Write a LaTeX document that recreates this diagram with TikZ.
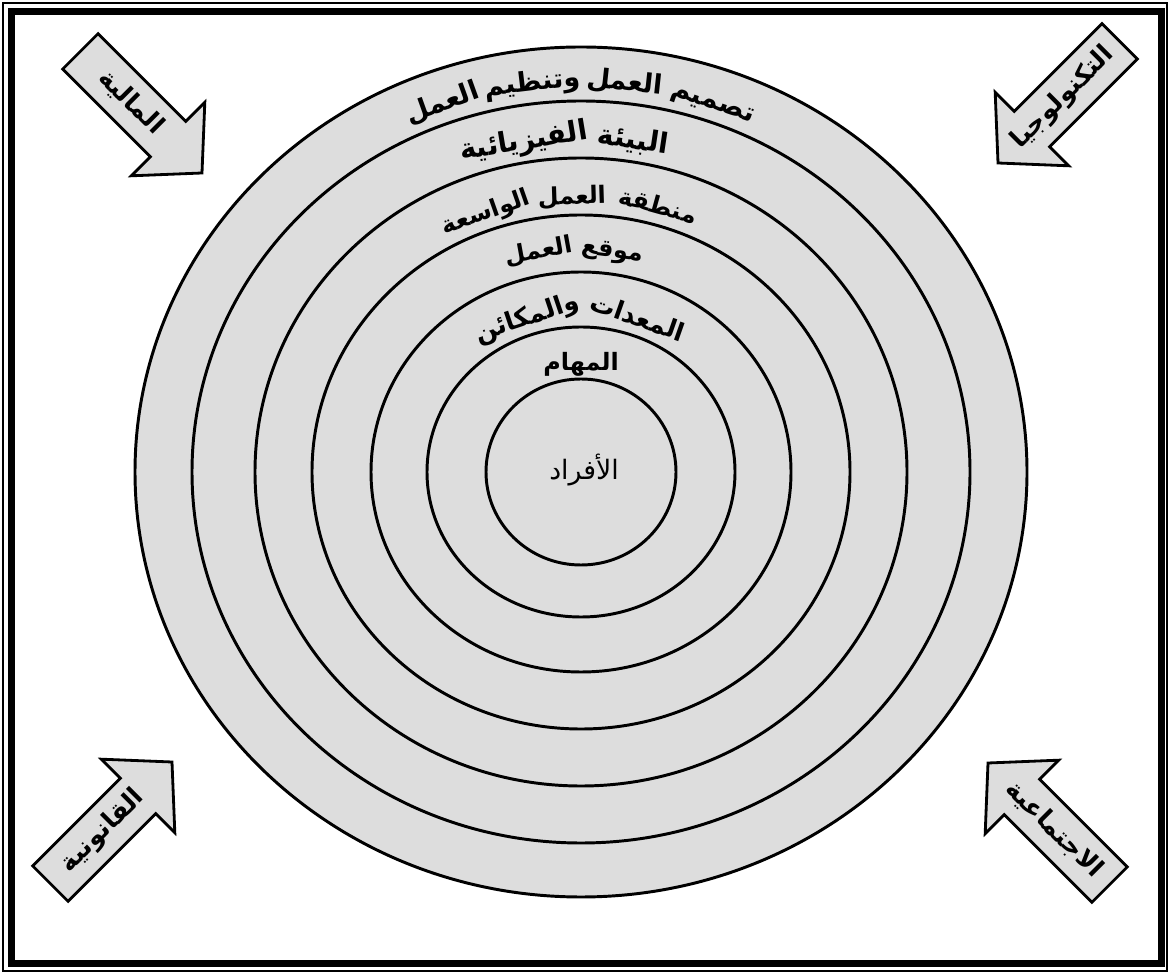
\documentclass[tikz,border=0pt]{standalone}
\usepackage{fontspec}
\newfontfamily\arabicfont[Script=Arabic]{DejaVu Sans}
\TeXXeTstate=1
\definecolor{ringgray}{RGB}{221,221,221}

\newcommand{\forcearrow}[6]{%
  \begin{scope}[shift={#2},rotate=#3]
    \draw[forcebox] (0,0) -- (-48,52) -- (-48,25) -- (-172,25) -- (-172,-25) -- (-48,-25) -- (-48,-52) -- cycle;
    \node[forcetext,rotate=#4] (#1) at (#5,0) {\beginR #6\endR};
  \end{scope}}

\begin{document}
\begin{tikzpicture}[x=0.025cm,y=0.025cm,
  ring/.style={draw=black,line width=2.1pt,fill=ringgray},
  ringtext/.style={font=\arabicfont\bfseries\fontsize{#1}{#1}\selectfont,inner sep=0pt,anchor=base},
  forcebox/.style={draw=black,line width=2pt,fill=ringgray,line join=miter},
  forcetext/.style={font=\arabicfont\bfseries\fontsize{18}{18}\selectfont,inner sep=0pt}]

\useasboundingbox (0,0) rectangle (1170,974);
\draw[line width=1pt] (3,3) rectangle (1167,971);
\draw[line width=5pt] (11.5,10.5) rectangle (1161,962.5);

\coordinate (c) at (581,502);
\draw[ring] (c) ellipse [x radius=446, y radius=425];
\draw[ring] (c) ellipse [x radius=389, y radius=371];
\draw[ring] (c) ellipse [x radius=326, y radius=314];
\draw[ring] (c) ellipse [x radius=269, y radius=257];
\draw[ring] (c) ellipse [x radius=210, y radius=200];
\draw[ring] (c) ellipse [x radius=154, y radius=145];
\draw[ring] (c) ellipse [x radius=95, y radius=93];

\begin{scope}[shift={(c)}]
\node[ringtext=19,rotate=-18.8] (t1a) at (71.2:403 and 384) {\beginR تصميم\endR};
\node[ringtext=19,rotate=-6.1] (t1b) at (83.9:403 and 384) {\beginR العمل\endR};
\node[ringtext=19,rotate=6.8] (t1c) at (96.8:403 and 384) {\beginR وتنظيم\endR};
\node[ringtext=19,rotate=19.7] (t1d) at (109.7:403 and 384) {\beginR العمل\endR};

\node[ringtext=20,rotate=-8.5] (t2a) at (81.5:343 and 327) {\beginR البيئة\endR};
\node[ringtext=20,rotate=9.4] (t2b) at (99.4:343 and 327) {\beginR الفيزيائية\endR};

\node[ringtext=17,rotate=-15.5] (t3a) at (74.5:281 and 268) {\beginR منطقة\endR};
\node[ringtext=17,rotate=1.8] (t3b) at (91.8:281 and 268) {\beginR العمل\endR};
\node[ringtext=17,rotate=19.3] (t3c) at (109.3:281 and 268) {\beginR الواسعة\endR};

\node[ringtext=17,rotate=-7.7] (t4a) at (82.3:228 and 217) {\beginR موقع\endR};
\node[ringtext=17,rotate=10.3] (t4b) at (100.3:228 and 217) {\beginR العمل\endR};

\node[ringtext=18,rotate=-19.3] (t5a) at (70.7:163 and 155) {\beginR المعدات\endR};
\node[ringtext=18,rotate=18.5] (t5b) at (108.5:163 and 155) {\beginR والمكائن\endR};

\node[ringtext=17] (t6) at (90:108 and 101) {\beginR المهام\endR};

\node[font=\arabicfont\fontsize{19}{19}\selectfont,inner sep=0pt,anchor=base] (t7) at (3,-8) {\beginR الأفراد\endR};
\end{scope}

\forcearrow{f1}{(202,801)}{-45}{-45}{-100}{المالية}
\forcearrow{f2}{(998,811)}{-135}{45}{-92}{التكنولوجيا}
\forcearrow{f3}{(172,212)}{45}{45}{-98}{القانونية}
\forcearrow{f4}{(988,211)}{135}{-45}{-94}{الاجتماعية}

\end{tikzpicture}
\end{document}
